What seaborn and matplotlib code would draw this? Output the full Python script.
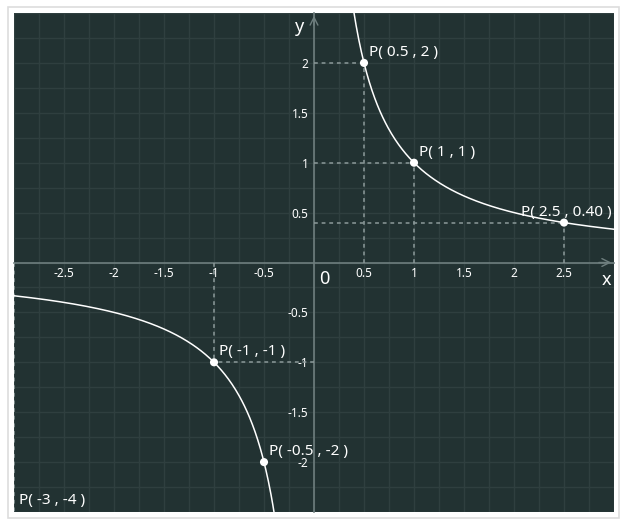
import numpy as np
import pandas as pd
import matplotlib.pyplot as plt
import matplotlib.ticker as mticker
from matplotlib.patches import Rectangle
import seaborn as sns

# points marked on y = 1/x
point_x = [0.5, 1, 2.5, -1, -0.5, -3]
point_y = [2, 1, 0.40, -1, -2, -4]
point_labels = ['P( 0.5 , 2 )', 'P( 1 , 1 )', 'P( 2.5 , 0.40 )',
                'P( -1 , -1 )', 'P( -0.5 , -2 )', 'P( -3 , -4 )']
# which points get dashed guide lines to the axes
guides = [True, True, True, True, False, True]
# label offsets in pixels (dx, dy)
offsets = [(5, 3), (5, 3), (-43, 3), (5, 3), (5, 3), (5, 3)]

x_ticks = [-2.5, -2, -1.5, -1, -0.5, 0.5, 1, 1.5, 2, 2.5]
y_ticks = [-2, -1.5, -1, -0.5, 0.5, 1, 1.5, 2]

bg = '#223232'
grid_c = '#2f3f3f'
axis_c = '#6e7e7e'
dash_c = '#8c9a9a'

sns.set_style('dark', {'axes.facecolor': bg})
plt.rcParams['font.family'] = ['Noto Sans', 'DejaVu Sans']

fig = plt.figure(figsize=(6.28, 5.28), dpi=100)
fig.patch.set_facecolor('white')
fig.patches.append(Rectangle((8 / 628, 10 / 528), 611 / 628, 511 / 528,
                             transform=fig.transFigure, fill=False,
                             edgecolor='#dddddd', linewidth=1.2))
ax = fig.add_axes([14 / 628, 16 / 528, 600 / 628, 499 / 528])
ax.set_facecolor(bg)
ax.set_xlim(-3, 3)
ax.set_ylim(-2.5, 2.5)

# curve y = 1/x, two branches
xs_pos = np.linspace(0.35, 3, 300)
xs_neg = np.linspace(-3, -0.35, 300)
curve = pd.concat([
    pd.DataFrame({'x': xs_pos, 'y': 1 / xs_pos, 'branch': 'pos'}),
    pd.DataFrame({'x': xs_neg, 'y': 1 / xs_neg, 'branch': 'neg'}),
])
sns.lineplot(data=curve, x='x', y='y', units='branch', estimator=None,
             color='white', linewidth=1.1, ax=ax, sort=False, zorder=4)

# dashed guides
for px, py, g in zip(point_x, point_y, guides):
    if not g:
        continue
    ax.plot([px, px], [0, py], ls=(0, (2.5, 2.5)), color=dash_c, lw=1.1, zorder=3)
    ax.plot([0, px], [py, py], ls=(0, (2.5, 2.5)), color=dash_c, lw=1.1, zorder=3)

pts = pd.DataFrame({'x': point_x, 'y': point_y})
sns.scatterplot(data=pts, x='x', y='y', color='white', s=34,
                edgecolor='none', ax=ax, zorder=5)

for px, py, lab, (dx, dy) in zip(point_x, point_y, point_labels, offsets):
    if py < -2.5:
        ax.text(-2.95, -2.46, lab, color='white', fontsize=11,
                ha='left', va='bottom', zorder=6)
        continue
    ax.annotate(lab, (px, py), xytext=(dx, dy), textcoords='offset pixels',
                color='white', fontsize=11, ha='left', va='bottom', zorder=6)

# axes through origin
for s in ['top', 'right']:
    ax.spines[s].set_visible(False)
ax.spines['left'].set_position(('data', 0))
ax.spines['bottom'].set_position(('data', 0))
for s in ['left', 'bottom']:
    ax.spines[s].set_color(axis_c)
    ax.spines[s].set_linewidth(1.2)
    ax.spines[s].set_zorder(2)

ax.xaxis.set_major_locator(mticker.FixedLocator(x_ticks))
ax.yaxis.set_major_locator(mticker.FixedLocator(y_ticks))
ax.xaxis.set_minor_locator(mticker.MultipleLocator(0.25))
ax.yaxis.set_minor_locator(mticker.MultipleLocator(0.25))
ax.set_xticklabels([f'{v:g}' for v in x_ticks])
ax.set_yticklabels([f'{v:g}' for v in y_ticks])
ax.tick_params(which='both', direction='in', length=4, width=1,
               color=axis_c, labelcolor='white', labelsize=8.5)
ax.tick_params(axis='x', pad=3)
ax.tick_params(axis='y', pad=4)
ax.grid(True, which='both', color=grid_c, linewidth=1)
ax.set_axisbelow(True)
ax.set_xlabel('')
ax.set_ylabel('')

# arrow heads and axis names
ax.annotate('', xy=(0, 1), xycoords=('data', 'axes fraction'),
            xytext=(0, 0.97), textcoords=('data', 'axes fraction'),
            arrowprops=dict(arrowstyle='->', color=axis_c, lw=1.0,
                            mutation_scale=14), annotation_clip=False)
ax.annotate('', xy=(1, 0), xycoords=('axes fraction', 'data'),
            xytext=(0.97, 0), textcoords=('axes fraction', 'data'),
            arrowprops=dict(arrowstyle='->', color=axis_c, lw=1.0,
                            mutation_scale=14), annotation_clip=False)
ax.text(-0.14, 2.36, 'y', color='white', fontsize=13, fontweight='bold',
        ha='center', va='center')
ax.text(2.92, -0.18, 'x', color='white', fontsize=13, fontweight='bold',
        ha='center', va='center')
ax.text(0.1, -0.17, '0', color='white', fontsize=13, ha='center', va='center')

fig.savefig('out.png', dpi=100, facecolor='white')
